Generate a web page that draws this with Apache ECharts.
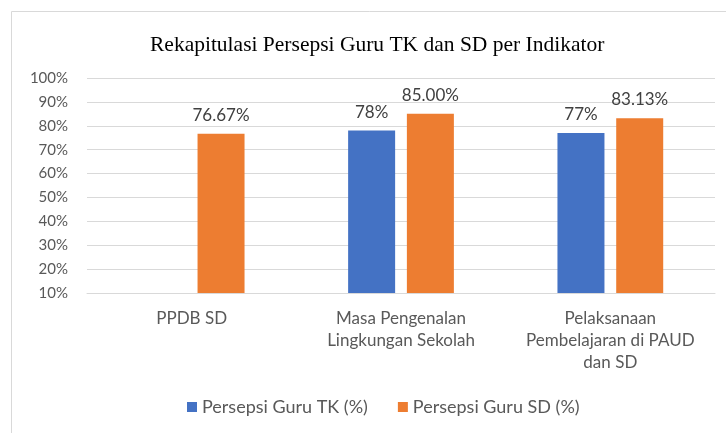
<!DOCTYPE html>
<html>
<head>
<meta charset="utf-8">
<script src="https://cdn.jsdelivr.net/npm/echarts@6/dist/echarts.min.js"></script>
<style>
  html, body { margin: 0; padding: 0; background: #fff; }
  #chart { width: 726px; height: 433px; }
</style>
</head>
<body>
<div id="chart"></div>
<script>
// categories on the x axis
var categories = [
  "PPDB SD",
  "Masa Pengenalan\nLingkungan Sekolah",
  "Pelaksanaan\nPembelajaran di PAUD\ndan SD"
];
// series values (%)
var guruTK = [null, 78, 77];
var guruSD = [76.67, 85.00, 83.13];
var seriesNames = ["Persepsi Guru TK (%)", "Persepsi Guru SD (%)"];
// y axis range
var yMin = 10;
var yMax = 100;
var yStep = 10;

var labelFont = "Lato, 'Noto Sans', sans-serif";

var chart = echarts.init(document.getElementById("chart"));
chart.setOption({
  animation: false,
  color: ["#4472C4", "#ED7D31"],
  // frame round the chart area
  graphic: [{
    type: "rect",
    left: 9,
    top: 9,
    shape: { width: 800, height: 500 },
    style: { fill: "none", stroke: "#d9d9d9", lineWidth: 1 },
    silent: true
  }],
  title: {
    text: "Rekapitulasi Persepsi Guru TK dan SD per Indikator",
    left: 145,
    top: 29,
    textStyle: {
      fontFamily: "'Liberation Serif', 'DejaVu Serif', serif",
      fontWeight: "normal",
      fontSize: 21.5,
      color: "#000"
    }
  },
  grid: {
    left: 87,
    right: 11,
    top: 78,
    bottom: 140
  },
  legend: {
    data: seriesNames,
    bottom: 12,
    left: 182,
    itemWidth: 10,
    itemHeight: 10,
    itemGap: 30,
    icon: "rect",
    textStyle: { fontFamily: labelFont, fontSize: 18, color: "#595959" }
  },
  xAxis: {
    type: "category",
    data: categories,
    axisLine: { lineStyle: { color: "#d9d9d9" } },
    axisTick: { show: false },
    axisLabel: {
      interval: 0,
      margin: 15,
      fontFamily: labelFont,
      fontSize: 17,
      lineHeight: 22,
      color: "#595959"
    }
  },
  yAxis: {
    type: "value",
    min: yMin,
    max: yMax,
    interval: yStep,
    axisLine: { show: false },
    axisTick: { show: false },
    splitLine: { lineStyle: { color: "#d9d9d9" } },
    axisLabel: {
      formatter: "{value}%",
      margin: 19,
      fontFamily: labelFont,
      fontSize: 15,
      color: "#595959"
    }
  },
  series: [
    {
      name: seriesNames[0],
      type: "bar",
      data: guruTK,
      barWidth: 47,
      barGap: "25%",
      label: {
        show: true,
        position: "top",
        distance: 10,
        fontFamily: labelFont,
        fontSize: 17,
        color: "#404040",
        formatter: function (p) { return Math.round(p.value) + "%"; }
      }
    },
    {
      name: seriesNames[1],
      type: "bar",
      data: guruSD,
      barWidth: 47,
      label: {
        show: true,
        position: "top",
        distance: 10,
        fontFamily: labelFont,
        fontSize: 17,
        color: "#404040",
        formatter: function (p) { return p.value.toFixed(2) + "%"; }
      }
    }
  ]
});
</script>
</body>
</html>
